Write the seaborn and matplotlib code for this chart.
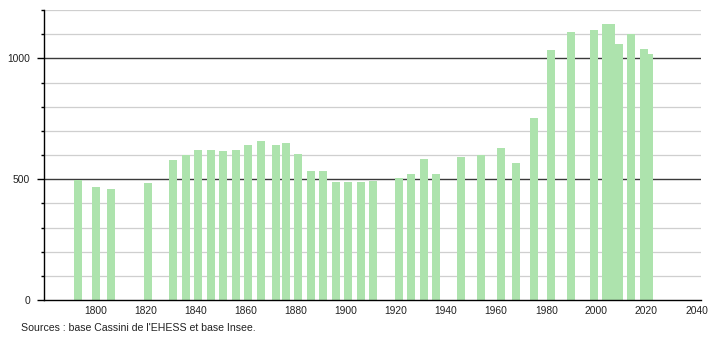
import matplotlib
matplotlib.use("Agg")
import matplotlib.pyplot as plt
from matplotlib.ticker import MultipleLocator, FixedLocator
import seaborn as sns
import pandas as pd

years = [1793, 1800, 1806, 1821, 1831, 1836, 1841, 1846, 1851, 1856,
         1861, 1866, 1872, 1876, 1881, 1886, 1891, 1896, 1901, 1906,
         1911, 1921, 1926, 1931, 1936, 1946, 1954, 1962, 1968, 1975,
         1982, 1990, 1999, 2004, 2006, 2009, 2014, 2019, 2021]
population = [498, 467, 460, 483, 578, 600, 622, 622, 618, 622,
              643, 660, 642, 650, 606, 535, 532, 487, 487, 487,
              491, 505, 520, 585, 523, 590, 600, 628, 567, 752,
              1033, 1108, 1117, 1141, 1141, 1061, 1102, 1037, 1016]
x_ticks = [1800, 1820, 1840, 1860, 1880, 1900, 1920, 1940, 1960, 1980, 2000, 2020, 2040]
y_major = [0, 500, 1000]
source_text = "Sources : base Cassini de l'EHESS et base Insee."

sns.set_theme(style="white")
plt.rcParams['font.family'] = ['Liberation Sans', 'DejaVu Sans']

df = pd.DataFrame({"year": years, "pop": population})

fig = plt.figure(figsize=(7.1, 3.4), dpi=100)
ax = fig.add_axes([44 / 710, 40 / 340, (700.7 - 44) / 710, 290 / 340])

# gridlines (behind bars)
for v in range(100, 1201, 100):
    if v % 500 == 0:
        ax.axhline(v, color="#3a3a3a", lw=1.0, zorder=0)
    else:
        ax.axhline(v, color="#cfcfcf", lw=0.9, zorder=0)

sns.barplot(data=df, x="year", y="pop", native_scale=True, width=1.6,
            color="#ade3ad", saturation=1, linewidth=0, errorbar=None,
            ax=ax, zorder=2)

ax.set_xlim(1779.4, 2041.7)
ax.set_ylim(0, 1200)
ax.set_xlabel("")
ax.set_ylabel("")

ax.xaxis.set_major_locator(FixedLocator(x_ticks))
ax.set_xticklabels([str(t) for t in x_ticks])
ax.yaxis.set_major_locator(FixedLocator(y_major))
ax.set_yticklabels([str(t) for t in y_major])
ax.yaxis.set_minor_locator(MultipleLocator(100))

for s in ["top", "right"]:
    ax.spines[s].set_visible(False)
for s in ["left", "bottom"]:
    ax.spines[s].set_visible(True)
    ax.spines[s].set_color("black")
    ax.spines[s].set_linewidth(1.0)

ax.tick_params(axis="x", which="both", length=0, pad=4, labelsize=7.4, colors="#222222")
ax.tick_params(axis="y", which="major", left=True, length=5, width=1, color="black",
               pad=5, labelsize=7.4, labelcolor="#222222", direction="out")
ax.tick_params(axis="y", which="minor", left=True, length=2.5, width=1, color="black",
               direction="out")

fig.text(20.7 / 710, 1 - 328 / 340, source_text, fontsize=7.6, color="#222222",
         va="center", ha="left")

fig.savefig("out.png", dpi=100, facecolor="white")
